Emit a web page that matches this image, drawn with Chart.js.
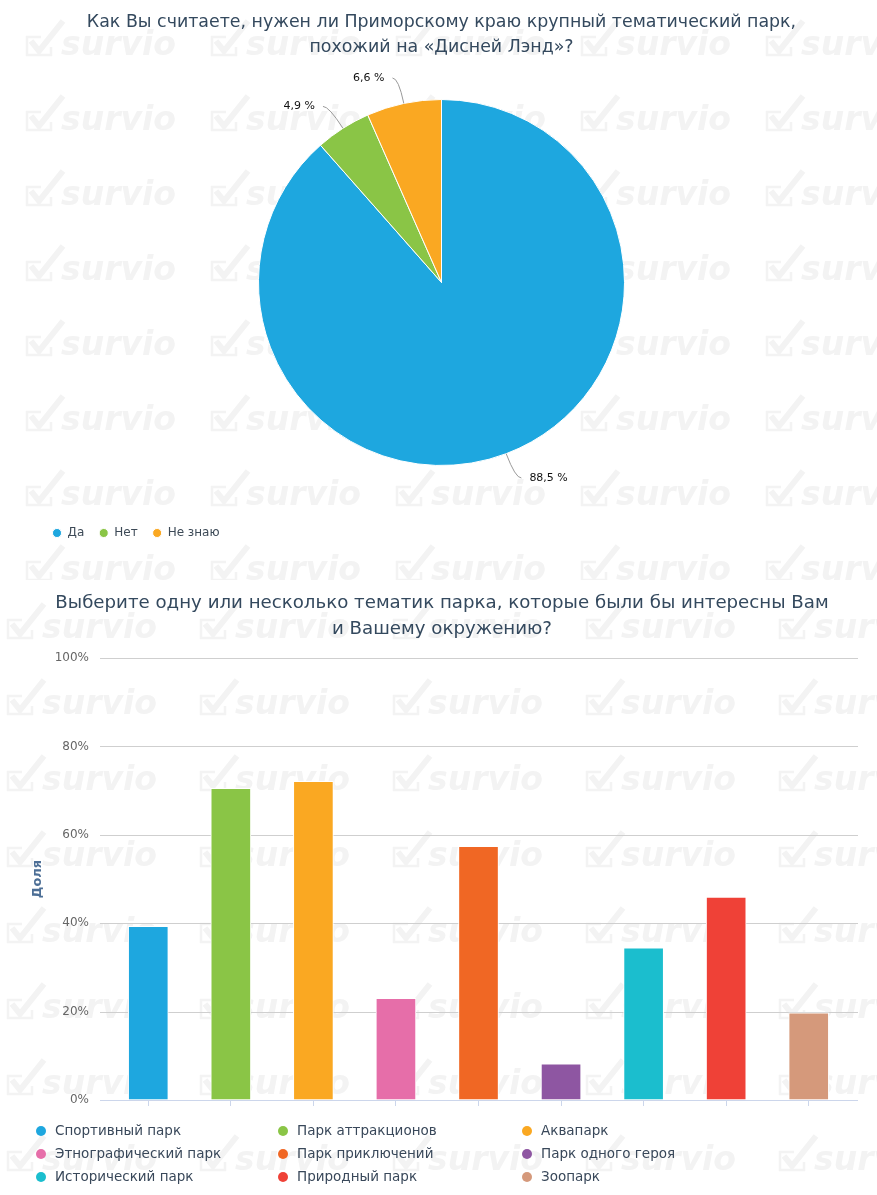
<!DOCTYPE html>
<html><head><meta charset="utf-8">
<script src="https://cdn.jsdelivr.net/npm/chart.js@4.4.1/dist/chart.umd.min.js"></script>
<style>
html,body{margin:0;padding:0;background:#fff;}
#wrap{position:relative;width:877px;height:1195px;overflow:hidden;background:#fff;}
#c1{position:absolute;left:0;top:0;}
#c2{position:absolute;left:0;top:580px;}
</style></head><body>
<div id="wrap"><canvas id="c1" width="877" height="580"></canvas><canvas id="c2" width="877" height="615"></canvas></div>
<script>
// ---------- data ----------
const pieTitle = ['Как Вы считаете, нужен ли Приморскому краю крупный тематический парк,', 'похожий на «Дисней Лэнд»?'];
const pieLabels = ['Да', 'Нет', 'Не знаю'];
const pieValues = [88.5, 4.9, 6.6];
const pieColors = ['#1EA7DF', '#8AC546', '#FAA822'];

const barTitle = ['Выберите одну или несколько тематик парка, которые были бы интересны Вам', 'и Вашему окружению?'];
const barLabels = ['Спортивный парк', 'Парк аттракционов', 'Аквапарк', 'Этнографический парк', 'Парк приключений', 'Парк одного героя', 'Исторический парк', 'Природный парк', 'Зоопарк'];
const barValues = [39.3, 70.5, 72.1, 23.0, 57.4, 8.2, 34.4, 45.9, 19.7];
const barColors = ['#1EA7DF', '#8AC546', '#FAA822', '#E66EA9', '#F06724', '#8E56A2', '#1BBECE', '#EF4137', '#D5997B'];
const yTickStep = 20;
const yMax = 100;
const yAxisTitle = 'Доля';
const watermarkWord = 'survio';

Chart.defaults.font.family = '"DejaVu Sans", Verdana, sans-serif';
const titleColor = '#34495e';

function watermark(x0, dx, y0, dy) {
  return {
    id: 'wm',
    beforeDraw(chart) {
      const ctx = chart.ctx;
      ctx.save();
      ctx.fillStyle = '#f3f3f3';
      ctx.strokeStyle = '#f3f3f3';
      ctx.font = 'italic bold 33px "DejaVu Sans"';
      ctx.textBaseline = 'alphabetic';
      for (let y = y0; y < chart.height + dy; y += dy) {
        for (let x = x0; x < chart.width + dx; x += dx) {
          ctx.lineWidth = 2.5;
          ctx.beginPath();
          ctx.moveTo(x + 14, y - 18); ctx.lineTo(x, y - 18); ctx.lineTo(x, y); ctx.lineTo(x + 24, y); ctx.lineTo(x + 24, y - 8);
          ctx.stroke();
          ctx.lineWidth = 6;
          ctx.beginPath();
          ctx.moveTo(x + 4, y - 14); ctx.lineTo(x + 12, y - 4); ctx.lineTo(x + 36, y - 34);
          ctx.stroke();
          ctx.fillText(watermarkWord, x + 34, y);
        }
      }
      ctx.restore();
    }
  };
}

// pie data labels with connectors
const pieLabelPlugin = {
  id: 'pieLabels',
  afterDatasetsDraw(chart) {
    const ctx = chart.ctx;
    const meta = chart.getDatasetMeta(0);
    ctx.save();
    ctx.font = '11px "DejaVu Sans"';
    ctx.textBaseline = 'middle';
    ctx.strokeStyle = '#999999';
    ctx.lineWidth = 1;
    meta.data.forEach((arc, i) => {
      const p = arc.getProps(['x', 'y', 'startAngle', 'endAngle', 'outerRadius'], true);
      const mid = (p.startAngle + p.endAngle) / 2;
      const c = Math.cos(mid), s = Math.sin(mid);
      const ex = p.x + c * p.outerRadius, ey = p.y + s * p.outerRadius;
      const ax = p.x + c * (p.outerRadius + 26), ay = p.y + s * (p.outerRadius + 26);
      const dir = c >= 0 ? 1 : -1;
      ctx.beginPath();
      ctx.moveTo(ex, ey);
      ctx.quadraticCurveTo(ax, ay, ax + dir * 6, ay);
      ctx.stroke();
      ctx.fillStyle = '#111111';
      ctx.textAlign = dir > 0 ? 'left' : 'right';
      const txt = pieValues[i].toFixed(1).replace('.', ',') + ' %';
      ctx.fillText(txt, ax + dir * 14, ay);
    });
    ctx.restore();
  }
};

new Chart(document.getElementById('c1'), {
  type: 'pie',
  data: {
    labels: pieLabels,
    datasets: [{ data: pieValues, backgroundColor: pieColors, borderColor: '#ffffff', borderWidth: 1, radius: 183 }]
  },
  options: {
    responsive: false,
    animation: false,
    layout: { padding: { left: 37.5, right: 31.5, top: 0, bottom: 31 } },
    plugins: {
      title: { display: true, text: pieTitle, color: titleColor, font: { size: 17.4, weight: 'normal', lineHeight: 25.5 / 17.4 }, padding: { top: 9.5, bottom: -7.5 } },
      legend: {
        position: 'bottom', align: 'start',
        labels: { usePointStyle: true, pointStyle: 'circle', boxWidth: 9, boxHeight: 6.4, padding: 15, color: '#3d4a57', font: { size: 12 } }
      },
      tooltip: { enabled: false }
    }
  },
  plugins: [watermark(27, 185, 55, 75), pieLabelPlugin]
});

// ---------- bar chart ----------
const gridPlugin = {
  id: 'extGrid',
  beforeDatasetsDraw(chart) {
    const ctx = chart.ctx;
    const y = chart.scales.y;
    ctx.save();
    ctx.lineWidth = 1;
    y.ticks.forEach(t => {
      const py = Math.round(y.getPixelForValue(t.value)) + 0.5;
      ctx.strokeStyle = t.value === 0 ? '#ccd6eb' : '#cfcfcf';
      ctx.beginPath(); ctx.moveTo(100, py); ctx.lineTo(858, py); ctx.stroke();
    });
    ctx.restore();
  }
};

const barLegendPlugin = {
  id: 'barLegend',
  afterDraw(chart) {
    const ctx = chart.ctx;
    const colX = [41, 283, 527];
    ctx.save();
    ctx.font = '13.5px "DejaVu Sans"';
    ctx.textBaseline = 'middle';
    ctx.textAlign = 'left';
    barLabels.forEach((lab, i) => {
      const col = i % 3, row = Math.floor(i / 3);
      const cx = colX[col];
      const cy = chart.chartArea.bottom + 31 + row * 23;
      ctx.fillStyle = barColors[i];
      ctx.beginPath(); ctx.arc(cx, cy, 5, 0, Math.PI * 2); ctx.fill();
      ctx.fillStyle = '#39485a';
      ctx.fillText(lab, cx + 14, cy);
    });
    ctx.restore();
  }
};

new Chart(document.getElementById('c2'), {
  type: 'bar',
  data: {
    labels: barLabels,
    datasets: [{ data: barValues, backgroundColor: barColors, borderColor: '#ffffff', borderWidth: 1, borderSkipped: false, barThickness: 40 }]
  },
  options: {
    responsive: false,
    animation: false,
    layout: { padding: { left: 34, right: 27, top: 0, bottom: 89 } },
    scales: {
      x: {
        offset: true,
        grid: { display: true, drawOnChartArea: false, drawTicks: true, tickLength: 6, offset: false, color: '#ccd6eb' },
        border: { display: false },
        ticks: { display: false },
        afterFit(scale) { scale.height = 6; }
      },
      y: {
        min: 0, max: yMax,
        grid: { display: false, drawTicks: false },
        border: { display: false },
        ticks: { stepSize: yTickStep, padding: 18, color: '#666666', font: { size: 12 }, callback: v => v + '%' },
        title: { display: true, text: yAxisTitle, color: '#4d6f96', font: { size: 13, weight: 'bold', lineHeight: 0.5 }, padding: 0 },
        afterFit(scale) { scale.width = 73; }
      }
    },
    plugins: {
      title: { display: true, text: barTitle, color: titleColor, font: { size: 18.2, weight: 'normal', lineHeight: 26 / 18.2 }, padding: { top: 10, bottom: 16 } },
      legend: { display: false },
      tooltip: { enabled: false }
    }
  },
  plugins: [watermark(8, 193, 58, 76), gridPlugin, barLegendPlugin]
});
</script>
</body></html>
